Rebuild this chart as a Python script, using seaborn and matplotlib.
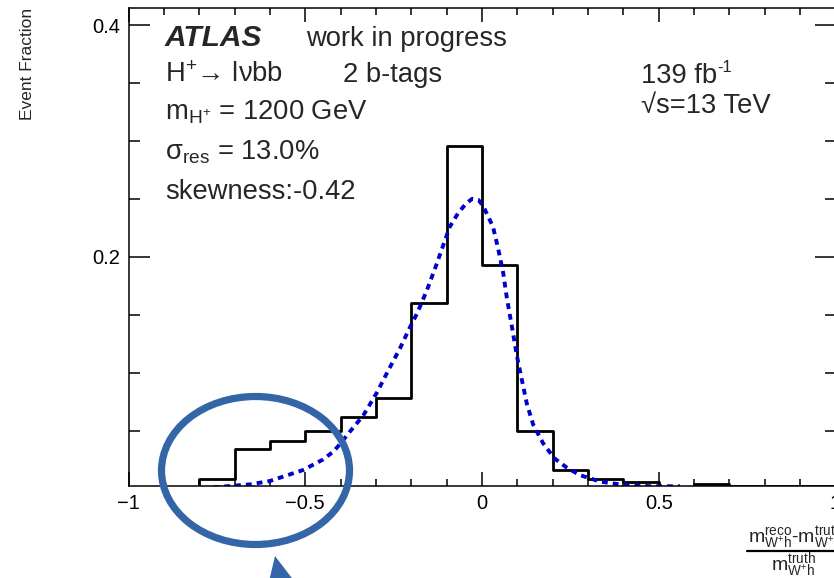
import numpy as np
import pandas as pd
import matplotlib
matplotlib.use("Agg")
import matplotlib.pyplot as plt
import seaborn as sns
from matplotlib.patches import Ellipse, Polygon
from matplotlib.lines import Line2D
from matplotlib.ticker import MultipleLocator, FixedLocator

# ── Data ─────────────────────────────────────────────────────────────────────
bin_edges = [-1.0, -0.9, -0.8, -0.7, -0.6, -0.5, -0.4, -0.3, -0.2, -0.1, 0.0,
             0.1, 0.2, 0.3, 0.4, 0.5, 0.6, 0.7, 0.8, 0.9, 1.0]
event_fraction = [0.0, 0.0, 0.008, 0.034, 0.041, 0.050, 0.062, 0.078, 0.160, 0.2955,
                  0.193, 0.050, 0.0157, 0.0085, 0.0053, 0.0015, 0.0037, 0.0018, 0.0018, 0.0018]

fit_x = [-0.76, -0.656, -0.600, -0.506, -0.45, -0.42, -0.40, -0.374, -0.336, -0.297,
         -0.265, -0.232, -0.204, -0.184, -0.156, -0.128, -0.105, -0.091, -0.068, -0.045,
         -0.028, -0.010, 0.003, 0.031, 0.045, 0.060, 0.070, 0.085, 0.099, 0.113,
         0.127, 0.145, 0.173, 0.205, 0.240, 0.277, 0.334, 0.39, 0.475, 0.56]
fit_y = [0.001, 0.0036, 0.0065, 0.016, 0.025, 0.032, 0.039, 0.049, 0.063, 0.083,
         0.102, 0.121, 0.139, 0.151, 0.171, 0.194, 0.214, 0.226, 0.2375, 0.246,
         0.250, 0.249, 0.244, 0.226, 0.208, 0.186, 0.165, 0.139, 0.114, 0.0935,
         0.073, 0.055, 0.039, 0.026, 0.018, 0.0116, 0.006, 0.0036, 0.002, 0.002]

x_major = [-1, -0.5, 0, 0.5, 1]
y_major = [0.2, 0.4]

hist_df = pd.DataFrame({
    "center": [(a + b) / 2 for a, b in zip(bin_edges[:-1], bin_edges[1:])],
    "fraction": event_fraction,
})
fit_df = pd.DataFrame({"x": fit_x, "y": fit_y})

# ── Style ────────────────────────────────────────────────────────────────────
sns.set_style("ticks")
plt.rcParams.update({
    "font.family": ["Liberation Sans", "DejaVu Sans"],
    "mathtext.fontset": "custom",
    "mathtext.rm": "Liberation Sans",
    "mathtext.it": "Liberation Sans:italic",
    "mathtext.bf": "Liberation Sans:bold",
    "mathtext.default": "regular",
    "axes.linewidth": 1.1,
})

W, H = 834, 578
fig = plt.figure(figsize=(W / 100, H / 100), dpi=100)
fig.patch.set_facecolor("white")


def px(x, y):
    return x / W, 1 - y / H


ax = fig.add_axes([128.5 / W, 1 - 486 / H, (835.5 - 128.5) / W, (486 - 8) / H])

sns.histplot(data=hist_df, x="center", weights="fraction", bins=bin_edges, element="step",
             fill=False, color="black", linewidth=2.0, ax=ax)
sns.lineplot(data=fit_df, x="x", y="y", color="#0000cc", linewidth=2.8,
             linestyle=(0, (1.5, 1.3)), ax=ax)

ax.set_xlim(-1, 1)
ax.set_ylim(0.0022, 0.4147)
ax.set_xlabel("")
ax.set_ylabel("")
ax.xaxis.set_major_locator(FixedLocator(x_major))
ax.xaxis.set_minor_locator(MultipleLocator(0.1))
ax.yaxis.set_major_locator(FixedLocator(y_major))
ax.yaxis.set_minor_locator(MultipleLocator(0.05))
ax.set_xticklabels(["\u22121", "\u22120.5", "0", "0.5", "1"])
ax.set_yticklabels(["0.2", "0.4"])
ax.tick_params(which="both", direction="in", top=True, right=True, width=1.1,
               labelsize=14.5, colors="black")
ax.tick_params(axis="x", which="major", length=10, pad=6)
ax.tick_params(axis="x", which="minor", length=5)
ax.tick_params(axis="y", which="major", length=15, pad=6)
ax.tick_params(axis="y", which="minor", length=8)
for s in ax.spines.values():
    s.set_visible(True)
    s.set_color("black")

# ── Labels ───────────────────────────────────────────────────────────────────
fs = 19.7
fig.text(*px(165, 46), "ATLAS", fontsize=21.5, fontweight="bold", style="italic", va="baseline")
fig.text(*px(306, 46), "work in progress", fontsize=fs, va="baseline")
fig.text(*px(165, 82), "H$^{+}$\u2192 l\u03bdbb", fontsize=fs, va="baseline")
fig.text(*px(343, 82), "2 b-tags", fontsize=fs, va="baseline")
fig.text(*px(165, 120), "m$_{H^{+}}$ = 1200 GeV", fontsize=fs, va="baseline")
fig.text(*px(165, 160), "\u03c3$_{res}$ = 13.0%", fontsize=fs, va="baseline")
fig.text(*px(165, 199), "skewness:-0.42", fontsize=fs, va="baseline")
fig.text(*px(641, 83), "139 fb", fontsize=fs, va="baseline")
fig.text(*px(717, 72), "-1", fontsize=12, va="baseline")
fig.text(*px(641, 113), "\u221as=13 TeV", fontsize=fs, va="baseline")

fig.text(*px(28, 8), "Event Fraction", fontsize=12.5, rotation=90, ha="center", va="top")

# x-axis title as a fraction
fig.text(*px(748, 543), "m$^{reco}_{W^{+}h}$-m$^{truth}_{W^{+}h}$", fontsize=14, va="baseline")
fig.text(*px(771, 571), "m$^{truth}_{W^{+}h}$", fontsize=14, va="baseline")
fig.add_artist(Line2D([747 / W, 1.0], [1 - 551 / H, 1 - 551 / H], color="black", lw=1.6,
                      transform=fig.transFigure))

# ── Annotation: ellipse and arrow head ───────────────────────────────────────
ell = Ellipse(px(255.5, 470.5), 188 / W, 148 / H, transform=fig.transFigure,
              fill=False, edgecolor="#3465a6", linewidth=5.2, zorder=10)
fig.add_artist(ell)
tri = Polygon([px(275, 556), px(267, 590), px(301, 590)], closed=True,
              transform=fig.transFigure, facecolor="#3465a6", edgecolor="none", zorder=10)
fig.add_artist(tri)

fig.savefig("out.png", dpi=100, facecolor="white")
